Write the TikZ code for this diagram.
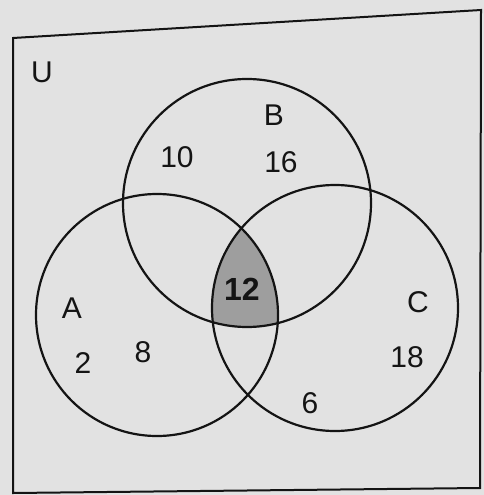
\documentclass[tikz,border=0pt]{standalone}
\usepackage{fontspec}
\setmainfont{Liberation Sans}
\usetikzlibrary{positioning}
\definecolor{paper}{RGB}{226,226,226}
\definecolor{ink}{RGB}{20,20,20}
\definecolor{coregray}{RGB}{158,158,158}

\begin{document}
\begin{tikzpicture}[
  x=1pt,y=-1pt,
  set/.style={draw=ink,line width=2.2pt},
  frame/.style={draw=ink,line width=2pt},
  num/.style={font=\fontsize{30}{32}\selectfont,text=ink,inner sep=0pt},
  core/.style={font=\fontsize{32}{34}\selectfont\bfseries,text=ink,inner sep=0pt}
]
\fill[paper] (0,0) rectangle (484,495);
\useasboundingbox (0,0) rectangle (484,495);
\coordinate (A) at (157,315);
\coordinate (B) at (247,203);
\coordinate (C) at (335,308);
% shaded A n B n C
\begin{scope}
\clip (A) circle (121);
\clip (B) circle (124);
\fill[coregray] (C) circle (123);
\end{scope}
\draw[frame] (13,38) -- (481,10) -- (480,488) -- (13,493) -- cycle;
\draw[set] (A) circle (121);
\draw[set] (B) circle (124);
\draw[set] (C) circle (123);
\node[num] (u) at (42,72) {U};
\node[num] (lb) at (274,115) {B};
\node[num] (n10) at (177,157) {10};
\node[num] (n16) at (281,162) {16};
\node[num] (la) at (72,308) {A};
\node[num] (n2) at (83,363) {2};
\node[num] (n8) at (143,352) {8};
\node[core] (n12) at (242,289) {12};
\node[num] (lc) at (418,302) {C};
\node[num] (n18) at (407,357) {18};
\node[num] (n6) at (310,403) {6};
\end{tikzpicture}
\end{document}
